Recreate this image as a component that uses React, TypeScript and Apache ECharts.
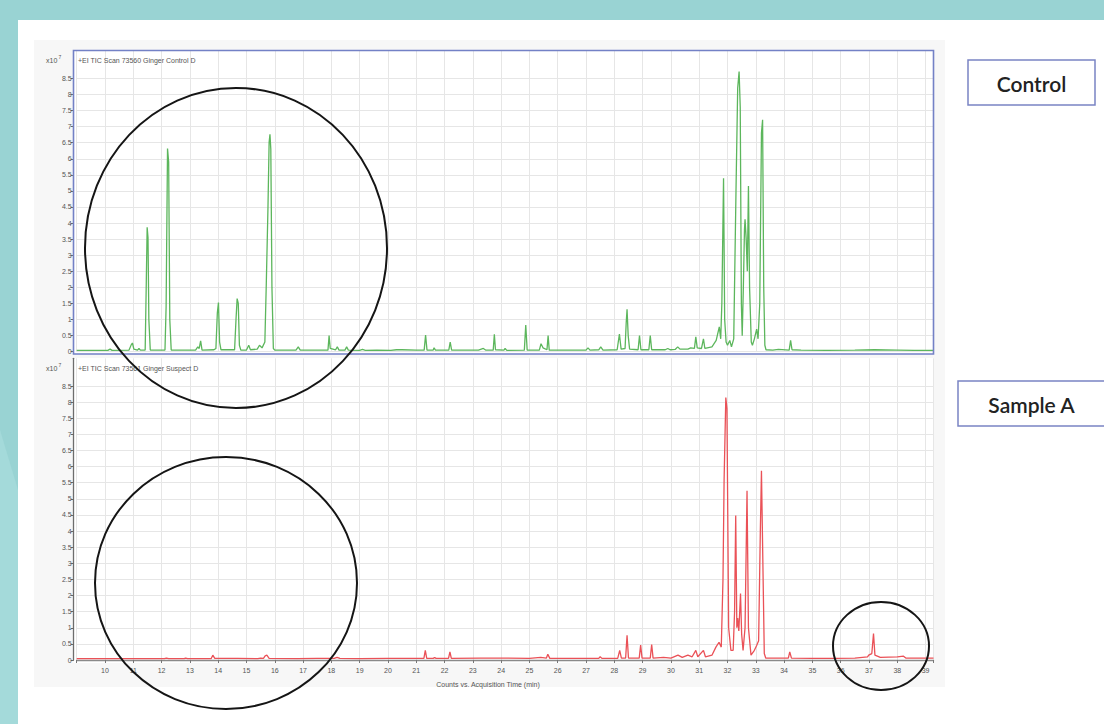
import React, { useEffect, useRef } from "react";
import * as echarts from "echarts";

// Retention time axis (min) and intensity ticks (x10^7 counts)
const xTickLabels: number[] = [10, 11, 12, 13, 14, 15, 16, 17, 18, 19, 20, 21, 22, 23, 24, 25, 26, 27, 28, 29, 30, 31, 32, 33, 34, 35, 36, 37, 38, 39];
const yTicks: number[] = [0, 0.5, 1, 1.5, 2, 2.5, 3, 3.5, 4, 4.5, 5, 5.5, 6, 6.5, 7, 7.5, 8, 8.5];

const controlTitle = "+EI TIC Scan 73560 Ginger Control D";
const sampleTitle = "+EI TIC Scan 73561 Ginger Suspect D";
const xAxisTitle = "Counts vs. Acquisition Time (min)";

// Control chromatogram: [time (min), counts x10^7]
const controlTrace: [number, number][] = [
  [9.0, 0.04], [10.1, 0.04], [10.18, 0.08], [10.25, 0.04],
  [10.85, 0.05], [10.93, 0.22], [10.97, 0.27], [11.02, 0.08], [11.15, 0.05], [11.2, 0.1], [11.25, 0.05],
  [11.42, 0.05], [11.46, 2.2], [11.49, 3.87], [11.52, 3.55], [11.55, 1.0], [11.6, 0.05],
  [12.12, 0.05], [12.16, 1.4], [12.21, 6.32], [12.25, 5.9], [12.29, 1.0], [12.34, 0.05],
  [13.2, 0.05], [13.28, 0.15], [13.33, 0.1], [13.38, 0.34], [13.43, 0.05],
  [13.85, 0.06], [13.92, 0.1], [13.97, 1.2], [14.01, 1.53], [14.05, 0.3], [14.1, 0.06],
  [14.58, 0.06], [14.63, 1.0], [14.67, 1.65], [14.71, 1.5], [14.75, 0.2], [14.8, 0.05],
  [15.0, 0.05], [15.08, 0.2], [15.14, 0.06], [15.38, 0.08], [15.46, 0.2], [15.55, 0.12],
  [15.65, 0.3], [15.7, 2.1], [15.76, 4.5], [15.8, 6.5], [15.83, 6.76], [15.86, 6.3], [15.9, 2.0], [15.95, 0.1], [16.0, 0.05],
  [16.75, 0.05], [16.83, 0.15], [16.9, 0.05],
  [17.88, 0.05], [17.92, 0.5], [17.96, 0.1], [18.15, 0.06], [18.21, 0.15], [18.27, 0.05], [18.48, 0.05], [18.54, 0.15], [18.6, 0.05],
  [19.0, 0.04], [19.1, 0.07], [19.2, 0.04], [19.6, 0.05], [20.1, 0.04], [20.3, 0.06], [20.5, 0.06], [21.0, 0.05],
  [21.28, 0.05], [21.33, 0.52], [21.38, 0.05], [21.6, 0.05], [21.63, 0.12], [21.68, 0.05],
  [22.15, 0.05], [22.2, 0.3], [22.25, 0.05],
  [23.2, 0.05], [23.37, 0.1], [23.45, 0.05], [23.72, 0.05], [23.76, 0.54], [23.8, 0.06], [24.1, 0.05], [24.14, 0.1], [24.2, 0.04],
  [24.82, 0.05], [24.87, 0.83], [24.92, 0.05],
  [25.35, 0.05], [25.41, 0.25], [25.48, 0.12], [25.62, 0.06], [25.66, 0.5], [25.7, 0.05],
  [26.5, 0.05], [27.0, 0.05], [27.07, 0.12], [27.14, 0.05], [27.45, 0.06], [27.52, 0.15], [27.6, 0.05],
  [28.1, 0.06], [28.18, 0.55], [28.24, 0.08], [28.38, 0.1], [28.42, 0.9], [28.45, 1.32], [28.49, 0.5], [28.54, 0.08],
  [28.84, 0.06], [28.89, 0.5], [28.94, 0.06], [29.22, 0.06], [29.27, 0.5], [29.32, 0.06],
  [29.8, 0.06], [29.89, 0.1], [29.97, 0.06], [30.15, 0.07], [30.24, 0.15], [30.32, 0.08],
  [30.6, 0.08], [30.7, 0.12], [30.83, 0.1], [30.88, 0.46], [30.93, 0.12], [31.08, 0.1], [31.15, 0.4], [31.2, 0.1],
  [31.45, 0.15], [31.6, 0.35], [31.71, 0.77], [31.76, 0.4], [31.8, 1.5], [31.86, 5.39], [31.9, 1.0], [31.95, 0.3], [32.0, 0.2], [32.08, 0.35], [32.14, 0.15],
  [32.22, 0.4], [32.3, 5.0], [32.36, 8.2], [32.41, 8.71], [32.45, 7.6], [32.49, 1.5], [32.52, 0.5],
  [32.56, 2.0], [32.6, 3.8], [32.62, 4.12], [32.66, 3.5], [32.7, 2.5], [32.74, 5.15], [32.78, 2.0], [32.84, 0.3], [32.88, 0.2], [32.95, 0.4], [33.03, 0.7], [33.08, 0.4],
  [33.14, 1.5], [33.2, 6.8], [33.24, 7.21], [33.28, 2.0], [33.32, 0.2], [33.36, 0.06],
  [33.6, 0.05], [33.8, 0.07], [34.18, 0.05], [34.23, 0.35], [34.28, 0.06],
  [34.6, 0.05], [35.5, 0.04], [36.5, 0.05], [37.2, 0.06], [38.0, 0.05], [38.6, 0.04], [39.28, 0.04],
];

// Sample A chromatogram: [time (min), counts x10^7]
const sampleTrace: [number, number][] = [
  [9.0, 0.04], [10.5, 0.04], [11.5, 0.04], [12.1, 0.04], [12.17, 0.06], [12.25, 0.04], [12.8, 0.04], [12.85, 0.06], [12.92, 0.04],
  [13.75, 0.04], [13.81, 0.15], [13.88, 0.05], [14.68, 0.05], [15.4, 0.04], [15.5, 0.06], [15.6, 0.05], [15.66, 0.13], [15.72, 0.15], [15.8, 0.05],
  [16.8, 0.04], [17.5, 0.05], [18.1, 0.05], [18.2, 0.08], [18.3, 0.05], [19.0, 0.04], [20.0, 0.05], [20.5, 0.05], [21.0, 0.05],
  [21.27, 0.05], [21.32, 0.3], [21.37, 0.05], [21.6, 0.05], [21.65, 0.08], [21.7, 0.05], [22.14, 0.05], [22.19, 0.25], [22.24, 0.05],
  [23.26, 0.06], [24.15, 0.06], [25.0, 0.05], [25.4, 0.08], [25.6, 0.06], [25.65, 0.18], [25.72, 0.05], [26.5, 0.05], [27.45, 0.05], [27.5, 0.1], [27.56, 0.05],
  [28.12, 0.05], [28.19, 0.3], [28.25, 0.06], [28.4, 0.06], [28.45, 0.77], [28.5, 0.06], [28.88, 0.06], [28.93, 0.46], [28.98, 0.06], [29.27, 0.06], [29.32, 0.48], [29.37, 0.06],
  [29.74, 0.08], [30.0, 0.06], [30.25, 0.15], [30.4, 0.08], [30.6, 0.15], [30.75, 0.1], [30.88, 0.3], [30.95, 0.1], [31.15, 0.3], [31.22, 0.1], [31.45, 0.15], [31.59, 0.4], [31.7, 0.55], [31.78, 0.4],
  [31.84, 2.5], [31.88, 5.6], [31.94, 8.14], [31.98, 7.8], [32.04, 1.0], [32.12, 0.3], [32.2, 0.3], [32.25, 1.5], [32.29, 4.48], [32.33, 1.0], [32.36, 1.3], [32.4, 0.9], [32.46, 2.06], [32.5, 0.8], [32.55, 0.3],
  [32.62, 1.0], [32.69, 5.25], [32.74, 1.0], [32.83, 0.15], [32.95, 0.3], [33.03, 0.45], [33.1, 0.6], [33.16, 4.0], [33.2, 5.87], [33.25, 3.0], [33.3, 0.2], [33.35, 0.06],
  [33.8, 0.06], [34.15, 0.06], [34.2, 0.25], [34.26, 0.06], [35.0, 0.05], [35.8, 0.05], [36.5, 0.06], [36.95, 0.1], [36.99, 0.15], [37.1, 0.2], [37.16, 0.82], [37.21, 0.15],
  [37.4, 0.08], [38.0, 0.1], [38.22, 0.12], [38.3, 0.06], [39.28, 0.06],
];

const FONT = "Liberation Sans";
const TXT = "#555";
const GRIDLINE = "#e6e6e6";

export default function App() {
  const ref = useRef<HTMLDivElement>(null);

  useEffect(() => {
    if (!ref.current) return;
    const chart = echarts.init(ref.current, null, { renderer: "svg" });

    const valueAxisY = (offset: number, showLine: boolean) => ({
      type: "value",
      min: 0,
      max: 9.36,
      interval: 0.5,
      offset,
      axisLine: { show: showLine, lineStyle: { color: "#6d6d6d", width: 1.3 } },
      axisTick: { show: true, length: 3, customValues: yTicks, lineStyle: { color: "#666" } },
      axisLabel: { customValues: yTicks, fontSize: 7, color: TXT, fontFamily: FONT, margin: 2 },
      splitLine: { show: true, lineStyle: { color: GRIDLINE, width: 1 } },
    });

    const option: any = {
      animation: false,
      backgroundColor: "transparent",
      grid: [
        { left: 76.7, top: 50.7, width: 856.8, height: 301, show: false, outerBoundsMode: "none" },
        { left: 76.7, top: 358.3, width: 856.8, height: 301.7, show: false, outerBoundsMode: "none" },
      ],
      xAxis: [
        {
          type: "value", gridIndex: 0, min: 9, max: 39.28, interval: 1,
          axisLine: { show: false }, axisTick: { show: false }, axisLabel: { show: false },
          splitLine: { show: true, lineStyle: { color: GRIDLINE, width: 1 } },
        },
        {
          type: "value", gridIndex: 1, min: 9, max: 39.28, interval: 1, offset: 3,
          axisLine: { show: true, lineStyle: { color: "#8a8a8a", width: 1.3 } },
          axisTick: { show: true, length: 3, lineStyle: { color: "#777" } },
          axisLabel: { customValues: xTickLabels, fontSize: 7, color: TXT, fontFamily: FONT, margin: 4 },
          splitLine: { show: true, lineStyle: { color: GRIDLINE, width: 1 } },
        },
      ],
      yAxis: [
        { ...valueAxisY(3, false), gridIndex: 0 },
        { ...valueAxisY(3, true), gridIndex: 1 },
      ],
      series: [
        {
          type: "line", name: "Control", xAxisIndex: 0, yAxisIndex: 0, data: controlTrace,
          showSymbol: false, symbol: "none", lineStyle: { color: "#5cb65c", width: 1.3 }, itemStyle: { color: "#5cb65c" }, z: 5,
        },
        {
          type: "line", name: "Sample A", xAxisIndex: 1, yAxisIndex: 1, data: sampleTrace,
          showSymbol: false, symbol: "none", lineStyle: { color: "#ea5157", width: 1.3 }, itemStyle: { color: "#ea5157" }, z: 5,
        },
      ],
      graphic: [
        { type: "rect", z: -100, silent: true, shape: { x: 0, y: 0, width: 1104, height: 724 }, style: { fill: "#99d3d3" } },
        { type: "polygon", z: -99, silent: true, shape: { points: [[0, 430], [18, 490], [18, 724], [0, 724]] }, style: { fill: "#a4dada" } },
        { type: "rect", z: -98, silent: true, shape: { x: 18, y: 20, width: 1086, height: 704 }, style: { fill: "#ffffff" } },
        { type: "rect", z: -97, silent: true, shape: { x: 34, y: 40, width: 911, height: 647 }, style: { fill: "#f7f7f7" } },
        { type: "rect", z: -96, silent: true, shape: { x: 73.5, y: 50.5, width: 860, height: 303.5 }, style: { fill: "#ffffff" } },
        { type: "rect", z: -96, silent: true, shape: { x: 73.5, y: 358, width: 860, height: 305 }, style: { fill: "#ffffff" } },
        { type: "rect", z: 50, silent: true, shape: { x: 73.5, y: 50.5, width: 860, height: 303.5 }, style: { fill: "none", stroke: "#7381c6", lineWidth: 1.6 } },
        // axis multipliers and titles
        { type: "text", z: 60, x: 46, y: 60, style: { text: "x10", fontSize: 7, fill: TXT, fontFamily: FONT, verticalAlign: "middle" } },
        { type: "text", z: 60, x: 58.5, y: 57, style: { text: "7", fontSize: 5, fill: TXT, fontFamily: FONT, verticalAlign: "middle" } },
        { type: "text", z: 60, x: 78, y: 60, style: { text: controlTitle, fontSize: 7, fill: TXT, fontFamily: FONT, verticalAlign: "middle" } },
        { type: "text", z: 60, x: 46, y: 368, style: { text: "x10", fontSize: 7, fill: TXT, fontFamily: FONT, verticalAlign: "middle" } },
        { type: "text", z: 60, x: 58.5, y: 365, style: { text: "7", fontSize: 5, fill: TXT, fontFamily: FONT, verticalAlign: "middle" } },
        { type: "text", z: 60, x: 78, y: 368, style: { text: sampleTitle, fontSize: 7, fill: TXT, fontFamily: FONT, verticalAlign: "middle" } },
        { type: "text", z: 60, x: 488, y: 684, style: { text: xAxisTitle, fontSize: 7, fill: TXT, fontFamily: FONT, align: "center", verticalAlign: "middle" } },
        // highlight circles
        { type: "ellipse", z: 100, silent: true, shape: { cx: 236, cy: 248, rx: 151, ry: 160 }, style: { fill: "none", stroke: "#151515", lineWidth: 2 } },
        { type: "ellipse", z: 100, silent: true, shape: { cx: 226, cy: 583, rx: 131, ry: 126 }, style: { fill: "none", stroke: "#151515", lineWidth: 2 } },
        { type: "ellipse", z: 100, silent: true, shape: { cx: 881, cy: 646, rx: 48, ry: 44 }, style: { fill: "none", stroke: "#151515", lineWidth: 2 } },
        // labels
        { type: "rect", z: 60, silent: true, shape: { x: 968, y: 60, width: 127, height: 45 }, style: { fill: "#ffffff", stroke: "#7a84c4", lineWidth: 1.5 } },
        { type: "text", z: 61, x: 1031.5, y: 83, style: { text: "Control", fontSize: 21, fontWeight: 600, fill: "#222", fontFamily: "Lato", align: "center", verticalAlign: "middle" } },
        { type: "rect", z: 60, silent: true, shape: { x: 958, y: 381, width: 160, height: 45 }, style: { fill: "#ffffff", stroke: "#7a84c4", lineWidth: 1.5 } },
        { type: "text", z: 61, x: 1031.5, y: 404, style: { text: "Sample A", fontSize: 21, fontWeight: 600, fill: "#222", fontFamily: "Lato", align: "center", verticalAlign: "middle" } },
      ],
    };

    chart.setOption(option);
    return () => chart.dispose();
  }, []);

  return (
    <div
      ref={ref}
      style={{ position: "absolute", left: 0, top: 0, width: 1104, height: 724 }}
    />
  );
}
